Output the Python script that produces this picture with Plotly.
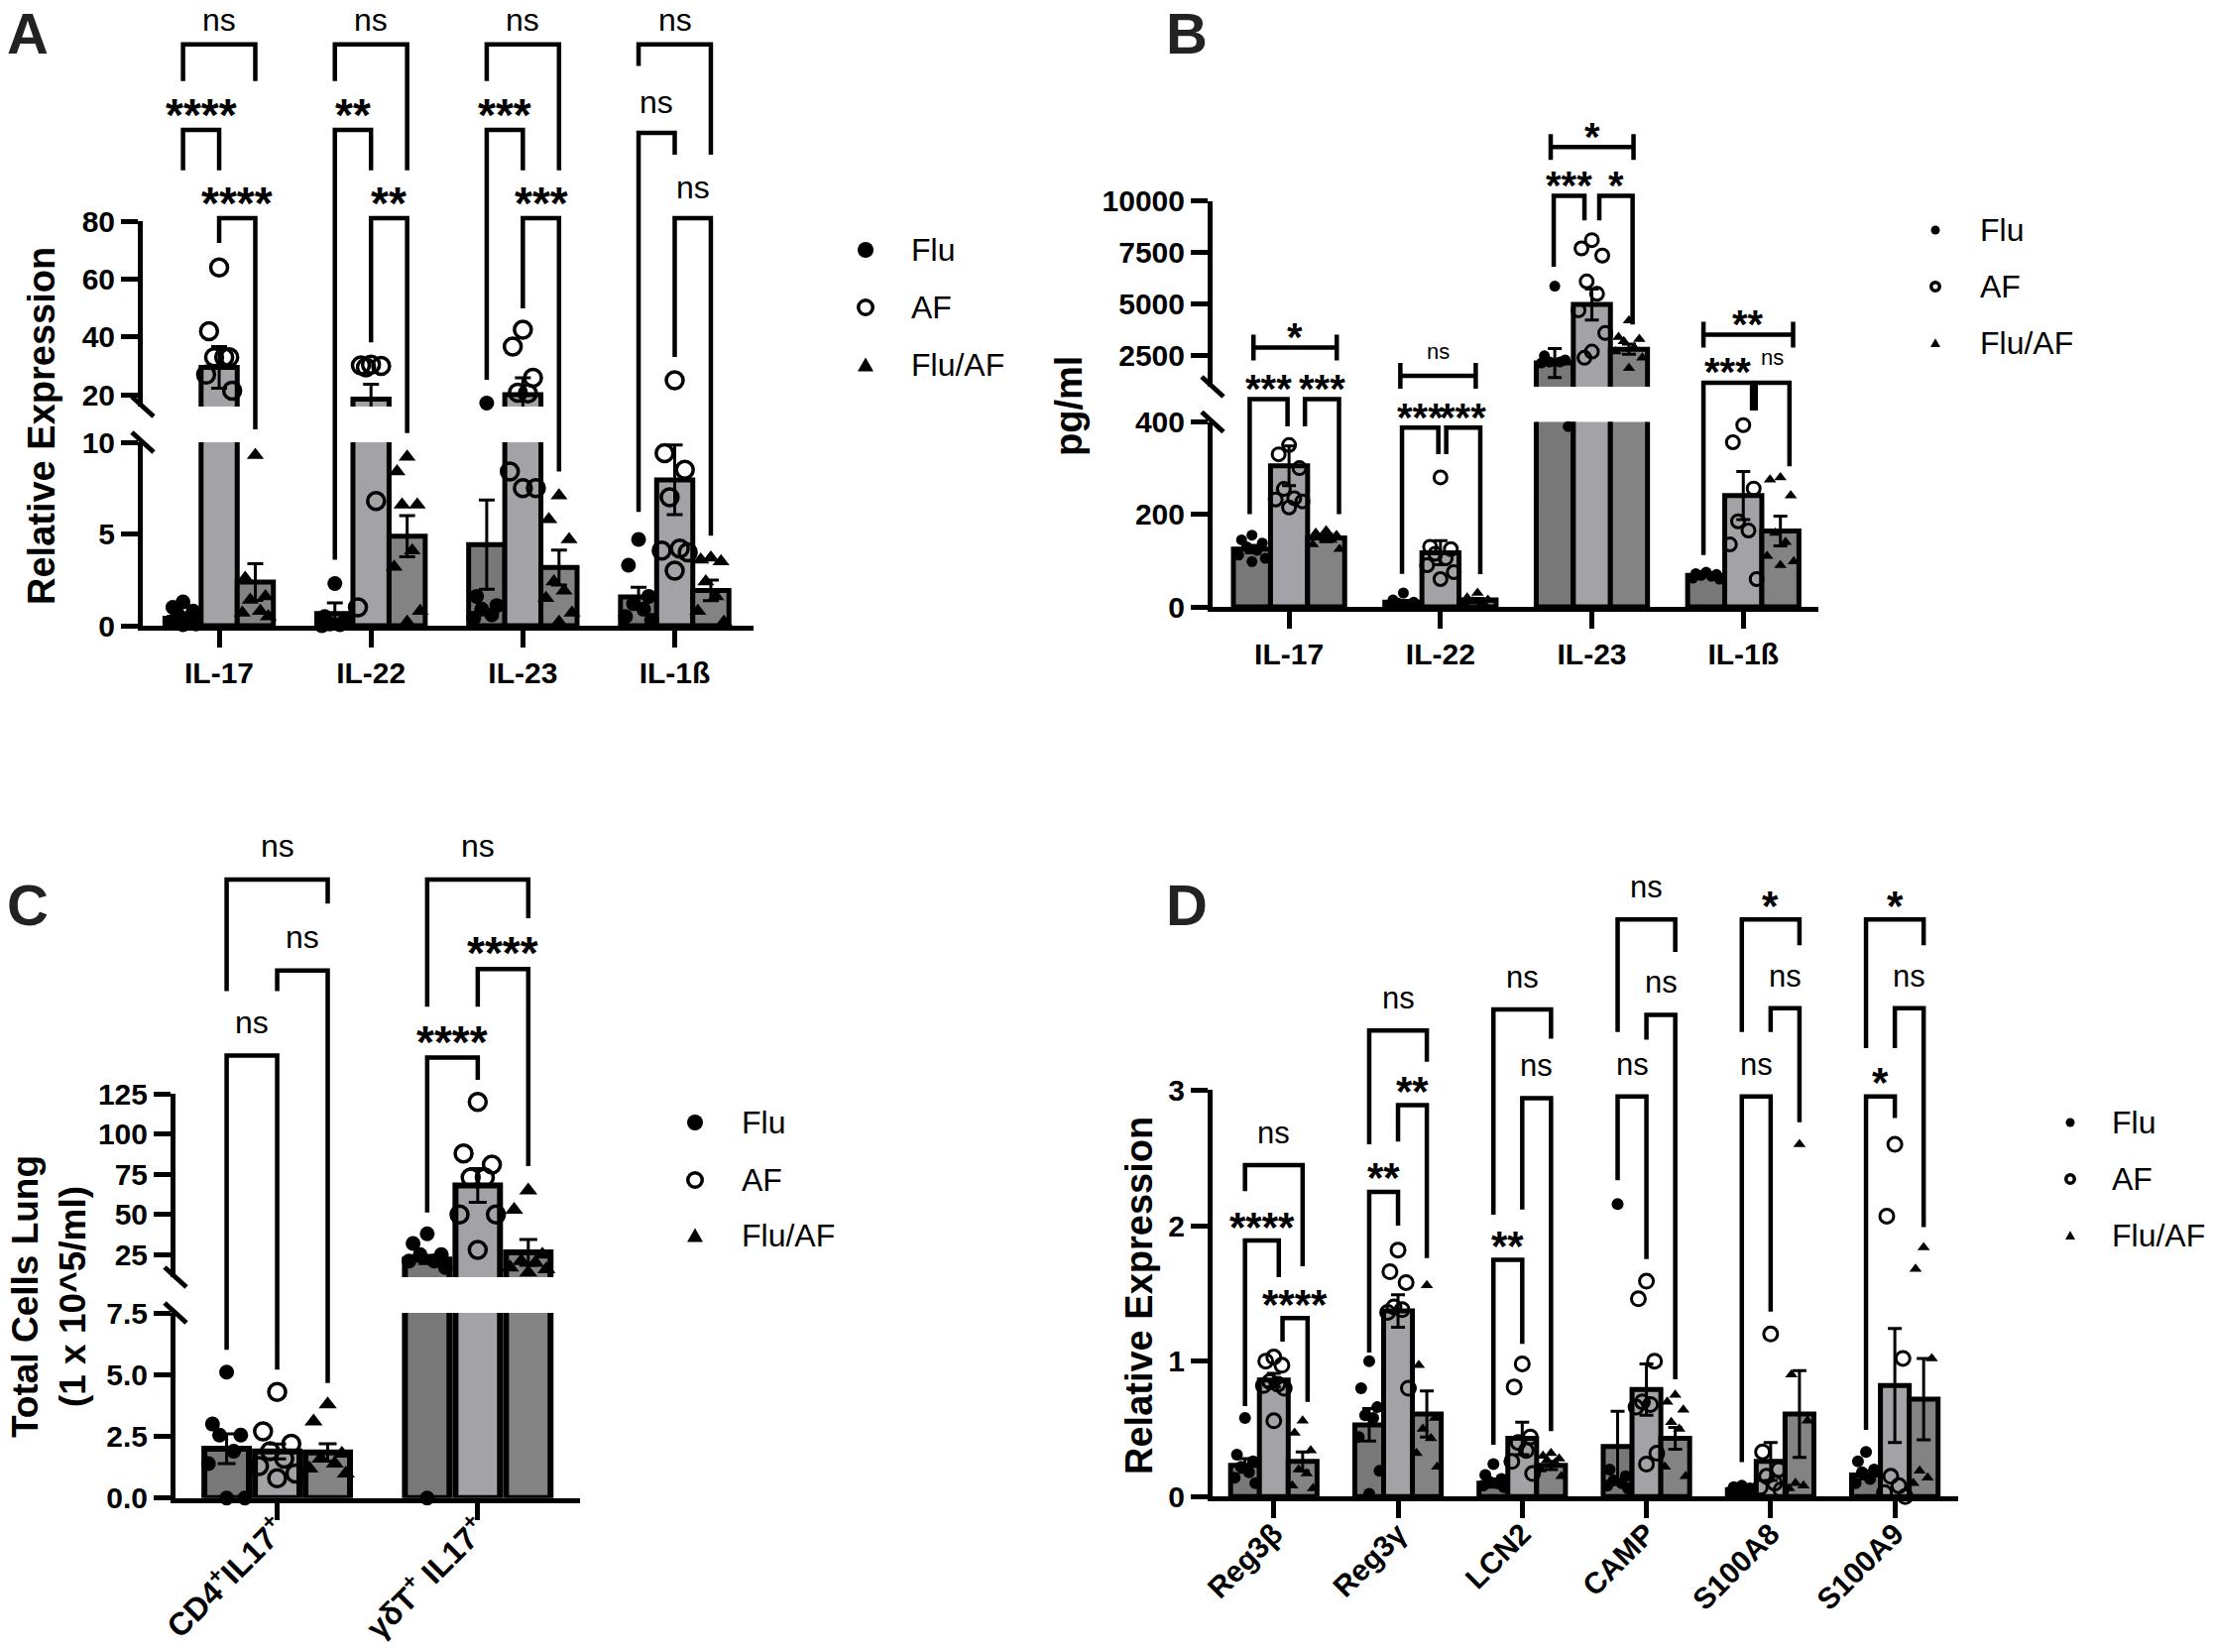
import plotly.graph_objects as go

W, H = 2232, 1666
FONT = "Liberation Sans"

GROUPS = ["Flu", "AF", "Flu/AF"]
BAR_COLORS = ["#787878", "#a3a2a7", "#838383"]
SYMBOLS = ["circle", "circle-open", "triangle-up"]

# ---------------- Panel A : relative expression (broken axis) ----------------
A_categories = ["IL-17", "IL-22", "IL-23", "IL-1ß"]
A_flu_mean = [0.40, 0.66, 4.42, 1.57]
A_flu_sem = [0.15, 0.58, 2.43, 0.53]
A_af_mean = [29.5, 18.6, 20.1, 7.95]
A_af_sem = [7.2, 5.1, 5.8, 1.9]
A_fluaf_mean = [2.38, 4.88, 3.17, 1.92]
A_fluaf_sem = [1.0, 1.12, 0.95, 0.56]
A_flu_points = [[1.3, 1.0, 0.8, 0.6, 0.4, 0.2, 0.1, 0.05],
                [2.3, 0.5, 0.3, 0.1, 0.05, 0.0],
                [17.2, 1.6, 1.1, 0.9, 0.6, 0.4],
                [4.7, 3.3, 1.6, 1.2, 0.9, 0.5, 0.3]]
A_af_points = [[64, 42, 33, 33, 33, 27, 21.5],
               [30.5, 30.2, 30, 29.5, 6.8, 1.0],
               [42.5, 36.7, 25.9, 20.8, 20.5, 8.4, 7.5, 7.5],
               [25.1, 9.4, 8.5, 7.0, 4.2, 4.1, 4.0, 3.0]]
A_fluaf_points = [[9.3, 2.6, 1.6, 1.4, 0.8, 0.7, 0.5],
                  [9.2, 8.4, 6.6, 6.6, 4.1, 3.2, 0.8, 0.2],
                  [7.1, 5.8, 4.7, 2.4, 1.9, 1.5, 0.7, 0.2],
                  [3.7, 3.6, 3.5, 2.4, 1.6, 0.8, 0.2]]
# (category, left group, right group, bracket level, left leg end, right leg end, label, (dx left, dx right))
A_brackets = [(0, 0, 2, 141.0, 128.3, 128.3, "ns", (0, 0)),
              (0, 0, 1, 111.5, 97.5, 97.5, "****", (0, 0)),
              (0, 1, 2, 81.0, 72.5, 10.7, "****", (0, 0)),
              (1, 0, 2, 141.0, 128.3, 97.5, "ns", (0, 0)),
              (1, 0, 1, 111.5, 3.6, 97.5, "**", (0, 0)),
              (1, 1, 2, 81.0, 38.2, 10.5, "**", (0, 0)),
              (2, 0, 2, 141.0, 128.3, 97.5, "ns", (0, 0)),
              (2, 0, 1, 111.5, 25.2, 97.5, "***", (0, 0)),
              (2, 1, 2, 81.0, 49.9, 8.4, "***", (0, 0)),
              (3, 0, 2, 141.0, 133.6, 102.9, "ns", (0, 0)),
              (3, 0, 1, 110.5, 6.2, 102.9, "ns", (0, 0)),
              (3, 1, 2, 81.0, 33.1, 4.9, "ns", (0, 0))]

# ---------------- Panel B : pg/ml (broken axis) ----------------
B_categories = ["IL-17", "IL-22", "IL-23", "IL-1ß"]
B_flu_mean = [125, 10, 2150, 68]
B_flu_sem = [8, 4, 700, 3]
B_af_mean = [305, 117, 4984, 241]
B_af_sem = [43, 26, 750, 52]
B_fluaf_mean = [149, 15, 2817, 164]
B_fluaf_sem = [8, 3, 250, 32]
B_flu_points = [[155, 145, 138, 130, 122, 112, 105, 98],
                [30, 15, 10, 8, 5, 3],
                [5870, 2500, 2300, 2200, 2200, 2150, 390],
                [75, 72, 70, 68, 66, 62, 60]]
B_af_points = [[350, 330, 300, 255, 235, 232, 228, 215],
               [280, 130, 125, 115, 105, 90, 75, 60],
               [8100, 7700, 7350, 6100, 5500, 4700, 3600, 2700, 2400],
               [393, 356, 256, 185, 165, 135, 60]]
B_fluaf_points = [[165, 160, 155, 150, 145, 135, 125],
                  [30, 20, 15, 12, 10, 8],
                  [4200, 3400, 3300, 3200, 2900, 2700, 2400, 1900],
                  [280, 275, 241, 160, 140, 110, 98, 90]]
# leg ends None -> horizontal bar with end caps
B_brackets = [(0, 0, 2, 2902, None, None, "*", (0.01, 0.07)),
              (0, 0, 1, 449.5, 200.5, 390.3, "***", (-0.015, -0.01)),
              (0, 1, 2, 449.5, 390.3, 200.5, "***", (0.105, 0.085)),
              (1, 0, 2, 1528, None, None, "ns", (-0.02, -0.012)),
              (1, 0, 1, 387.6, 71.4, 330.3, "***", (-0.009, -0.014)),
              (1, 1, 2, 387.6, 330.3, 71.0, "***", (0.038, 0.018)),
              (2, 0, 2, 12614, None, None, "*", (-0.027, 0.03)),
              (2, 0, 1, 10246, 6815, 9060, "***", (-0.007, -0.049)),
              (2, 1, 2, 10246, 9060, 4011, "*", (0.049, 0.024)),
              (3, 0, 2, 3517, None, None, "**", (-0.018, 0.084)),
              (3, 0, 1, 1197, 112, 424.7, "***", (-0.018, 0.058)),
              (3, 1, 2, 1197, 424.7, 304, "ns", (0.082, 0.06))]

# ---------------- Panel C : total cells (broken axis) ----------------
C_categories = ["CD4<sup>+</sup>IL17<sup>+</sup>", "γδT<sup>+</sup> IL17<sup>+</sup>"]
C_flu_mean = [2.0, 22.0]
C_flu_sem = [0.6, 2.5]
C_af_mean = [1.89, 68.0]
C_af_sem = [0.3, 10.5]
C_fluaf_mean = [1.85, 26.4]
C_fluaf_sem = [0.35, 8.0]
C_flu_points = [[5.1, 3.0, 2.55, 2.55, 1.9, 1.4, 0.0, 0.0],
                [38, 32, 25, 25, 21, 21, 17, 0.0]]
C_af_points = [[4.3, 2.7, 2.2, 1.9, 1.6, 1.3, 1.0, 0.8],
               [120, 88, 81, 73, 73, 50, 50, 28]]
C_fluaf_points = [[3.8, 3.1, 1.8, 1.6, 1.4, 1.2, 1.0],
                  [65, 53, 25, 21, 20, 17, 16, 14]]
C_brackets = [(0, 0, 2, 258.3, 188.9, 243.4, "ns", (0, 0)),
              (0, 1, 2, 201.8, 188.9, 4.66, "ns", (0, 0)),
              (0, 0, 1, 148.9, 6.0, 5.2, "ns", (0, 0)),
              (1, 0, 2, 258.3, 179.2, 234.3, "ns", (0, 0)),
              (1, 1, 2, 202.7, 179.2, 80.1, "****", (0, 0)),
              (1, 0, 1, 147.6, 51.2, 133.8, "****", (0, 0))]

# ---------------- Panel D : relative expression ----------------
D_categories = ["Reg3β", "Reg3γ", "LCN2", "CAMP", "S100A8", "S100A9"]
D_flu_mean = [0.23, 0.53, 0.10, 0.37, 0.05, 0.16]
D_flu_sem = [0.05, 0.12, 0.03, 0.26, 0.01, 0.03]
D_af_mean = [0.86, 1.37, 0.43, 0.79, 0.26, 0.82]
D_af_sem = [0.05, 0.12, 0.12, 0.19, 0.14, 0.42]
D_fluaf_mean = [0.26, 0.61, 0.23, 0.43, 0.61, 0.72]
D_fluaf_sem = [0.07, 0.17, 0.03, 0.08, 0.32, 0.30]
D_flu_points = [[0.58, 0.31, 0.26, 0.22, 0.18, 0.14, 0.10],
                [1.0, 0.8, 0.66, 0.6, 0.58, 0.44, 0.19, 0.02],
                [0.24, 0.16, 0.13, 0.11, 0.10, 0.08, 0.07],
                [2.16, 0.2, 0.15, 0.12, 0.10, 0.08, 0.06],
                [0.08, 0.07, 0.06, 0.05, 0.04, 0.04, 0.03],
                [0.33, 0.26, 0.2, 0.18, 0.13, 0.10]]
D_af_points = [[1.03, 1.0, 0.97, 0.85, 0.83, 0.82, 0.80, 0.56],
               [1.82, 1.66, 1.58, 1.4, 1.38, 1.36, 0.8],
               [0.98, 0.81, 0.44, 0.4, 0.34, 0.26, 0.17],
               [1.59, 1.46, 1.0, 0.7, 0.68, 0.66, 0.32, 0.24],
               [1.2, 0.33, 0.2, 0.15, 0.10, 0.07, 0.05],
               [2.6, 2.07, 1.02, 0.15, 0.08, 0.03, 0.0]]
D_fluaf_points = [[0.56, 0.47, 0.34, 0.2, 0.17, 0.08, 0.06],
                  [1.56, 0.97, 0.58, 0.5, 0.43, 0.32, 0.22],
                  [0.32, 0.3, 0.28, 0.27, 0.25, 0.2, 0.15],
                  [0.75, 0.7, 0.64, 0.55, 0.5, 0.22, 0.15],
                  [2.6, 0.9, 0.56, 0.1, 0.08, 0.06],
                  [1.84, 1.68, 1.02, 0.19, 0.14, 0.10]]
D_brackets = [(0, 0, 2, 2.446, 2.255, 1.70, "ns", (0, 0)),
              (0, 0, 1, 1.89, 0.668, 1.62, "****", (0, 0.04)),
              (0, 1, 2, 1.318, 1.144, 0.70, "****", (0.07, 0.04)),
              (1, 0, 2, 3.44, 2.60, 3.21, "ns", (0, 0)),
              (1, 1, 2, 2.89, 2.62, 1.76, "**", (0, 0)),
              (1, 0, 1, 2.25, 1.064, 2.0, "**", (0, 0)),
              (2, 0, 2, 3.595, 2.08, 3.38, "ns", (0, 0)),
              (2, 1, 2, 2.94, 2.12, 0.484, "ns", (0, 0)),
              (2, 0, 1, 1.747, 0.383, 1.128, "**", (0, 0)),
              (3, 0, 2, 4.26, 3.43, 4.02, "ns", (0, 0)),
              (3, 1, 2, 3.556, 3.373, 0.865, "ns", (0, 0)),
              (3, 0, 1, 2.953, 2.335, 1.753, "ns", (0, 0)),
              (4, 0, 2, 4.26, 3.43, 4.07, "*", (0, 0)),
              (4, 1, 2, 3.605, 3.43, 2.763, "ns", (0, 0)),
              (4, 0, 1, 2.953, 0.255, 1.366, "ns", (0, 0)),
              (5, 0, 2, 4.26, 3.31, 4.07, "*", (0, 0)),
              (5, 1, 2, 3.605, 3.31, 1.99, "ns", (0, 0)),
              (5, 0, 1, 2.953, 0.493, 2.795, "*", (0, 0))]

# jitter pattern (fraction of bar pitch) used to spread the dots inside a bar
JITTER = [0.0, -0.28, 0.28, -0.14, 0.14, -0.36, 0.36, 0.0, -0.2]

panels = [
    dict(letter="A", letter_px=(28, 33), cats=A_categories,
         means=[A_flu_mean, A_af_mean, A_fluaf_mean], sems=[A_flu_sem, A_af_sem, A_fluaf_sem],
         points=[A_flu_points, A_af_points, A_fluaf_points], brackets=A_brackets,
         xpx=(144, 760), xrange=(-0.503, 3.519), tickangle=0, xfont=30, xstand=0,
         segs=[dict(rng=(0, 10), px=(631, 446), tv=[0, 5, 10], tt=["0", "5", "10"]),
               dict(rng=(16, 80), px=(410, 223), tv=[20, 40, 60, 80], tt=["20", "40", "60", "80"])],
         pitch=0.238, barw=0.238, blw=5, ms=[15, 17, 15], oline=3.5, ecap=8,
         ns_size=32, st_size=46, ns_gap=28, st_gap=26.5, brw=4.5,
         title="Relative Expression", title_px=(42, 430), title_size=38,
         legend=dict(mx=873, tx=917, ys=[252, 310, 368], ms=[16, 18, 16])),
    dict(letter="B", letter_px=(1197, 33), cats=B_categories,
         means=[B_flu_mean, B_af_mean, B_fluaf_mean], sems=[B_flu_sem, B_af_sem, B_fluaf_sem],
         points=[B_flu_points, B_af_points, B_fluaf_points], brackets=B_brackets,
         xpx=(1223, 1834), xrange=(-0.505, 3.496), tickangle=0, xfont=30, xstand=0,
         segs=[dict(rng=(0, 400), px=(612, 425.5), tv=[0, 200, 400], tt=["0", "200", "400"]),
               dict(rng=(1000, 10000), px=(390, 202.6), tv=[2500, 5000, 7500, 10000],
                    tt=["2500", "5000", "7500", "10000"])],
         pitch=0.245, barw=0.245, blw=5, ms=[11, 13, 11], oline=3, ecap=7,
         ns_size=22, st_size=40, ns_gap=23, st_gap=20, brw=4.5,
         title="pg/ml", title_px=(1078, 410), title_size=38,
         legend=dict(mx=1952, tx=1995, ys=[232, 289, 346], ms=[9, 12, 10])),
    dict(letter="C", letter_px=(28, 912), cats=C_categories,
         means=[C_flu_mean, C_af_mean, C_fluaf_mean], sems=[C_flu_sem, C_af_sem, C_fluaf_sem],
         points=[C_flu_points, C_af_points, C_fluaf_points], brackets=C_brackets,
         xpx=(177, 585), xrange=(-0.507, 1.51), tickangle=-45, xfont=32, xstand=-22,
         segs=[dict(rng=(0, 7.5), px=(1510.8, 1324), tv=[0, 2.5, 5, 7.5], tt=["0.0", "2.5", "5.0", "7.5"]),
               dict(rng=(11, 125), px=(1288, 1103.2), tv=[25, 50, 75, 100, 125],
                    tt=["25", "50", "75", "100", "125"])],
         pitch=0.252, barw=0.222, blw=6, ms=[15, 17, 16], oline=3.5, ecap=9,
         ns_size=32, st_size=46, ns_gap=31, st_gap=27, brw=4.5,
         title="Total Cells Lung<br>(1 x 10^5/ml)", title_px=(49, 1308), title_size=37,
         legend=dict(mx=701, tx=746, ys=[1132, 1190, 1246], ms=[16, 18, 16])),
    dict(letter="D", letter_px=(1197, 912), cats=D_categories,
         means=[D_flu_mean, D_af_mean, D_fluaf_mean], sems=[D_flu_sem, D_af_sem, D_fluaf_sem],
         points=[D_flu_points, D_af_points, D_fluaf_points], brackets=D_brackets,
         xpx=(1223, 1975), xrange=(-0.493, 5.51), tickangle=-45, xfont=30, xstand=-14,
         segs=[dict(rng=(0, 3), px=(1509.3, 1099.4), tv=[0, 1, 2, 3], tt=["0", "1", "2", "3"])],
         pitch=0.232, barw=0.232, blw=5, ms=[12, 14, 11], oline=3, ecap=7,
         ns_size=31, st_size=42, ns_gap=30, st_gap=24, brw=4.5,
         title="Relative Expression", title_px=(1149, 1307), title_size=38,
         legend=dict(mx=2088, tx=2128, ys=[1132, 1189, 1246], ms=[9, 12, 10])),
]

fig = go.Figure()
layout = {}
shapes = []
annotations = []


def axis_names(kind, i):
    return (kind + ("" if i == 1 else str(i)), ("x" if kind == "xaxis" else "y") + ("" if i == 1 else str(i)))


def v2paper(p, v):
    segs = p["segs"]
    s = segs[-1] if (len(segs) == 1 or v >= segs[1]["rng"][0]) else segs[0]
    (r0, r1), (b, t) = s["rng"], s["px"]
    px = b + (v - r0) * (t - b) / (r1 - r0)
    return 1 - px / H


def in_seg(p, k, v):
    segs = p["segs"]
    if len(segs) == 1:
        return True
    return v <= segs[0]["rng"][1] if k == 0 else v >= segs[1]["rng"][0]


tickfont = dict(family=FONT, size=30, color="black", weight="bold")
yid = 0
for pi, p in enumerate(panels):
    xkey, xref = axis_names("xaxis", pi + 1)
    n = len(p["cats"])
    seg_refs = []
    for k, s in enumerate(p["segs"]):
        yid += 1
        ykey, yref = axis_names("yaxis", yid)
        seg_refs.append(yref)
        layout[ykey] = dict(domain=[1 - s["px"][0] / H, 1 - s["px"][1] / H], range=list(s["rng"]),
                            anchor=xref, tickvals=s["tv"], ticktext=s["tt"], showline=True,
                            linecolor="black", linewidth=5, ticks="outside", ticklen=17, tickwidth=5,
                            tickcolor="black", showgrid=False, zeroline=False, tickfont=tickfont,
                            fixedrange=True, automargin=False)
        # bars with SEM
        for g in range(3):
            xs = [c + (g - 1) * p["pitch"] for c in range(n)]
            fig.add_trace(go.Bar(x=xs, y=p["means"][g], width=p["barw"], xaxis=xref, yaxis=yref,
                                 marker=dict(color=BAR_COLORS[g], line=dict(color="black", width=p["blw"])),
                                 error_y=dict(type="data", array=p["sems"][g], color="black",
                                              thickness=3, width=p["ecap"]),
                                 name=GROUPS[g], showlegend=False, hoverinfo="skip"))
        # individual points
        for g in range(3):
            xs, ys = [], []
            for c in range(n):
                for i, v in enumerate(p["points"][g][c]):
                    if in_seg(p, k, v):
                        xs.append(c + (g - 1) * p["pitch"] + JITTER[i % len(JITTER)] * p["pitch"])
                        ys.append(v)
            if g == 1:
                mk = dict(symbol=SYMBOLS[g], size=p["ms"][g], color="black",
                          line=dict(color="black", width=p["oline"]))
            else:
                mk = dict(symbol=SYMBOLS[g], size=p["ms"][g], color="black", line=dict(width=0))
            fig.add_trace(go.Scatter(x=xs, y=ys, mode="markers", marker=mk, xaxis=xref, yaxis=yref,
                                     cliponaxis=False, showlegend=False, hoverinfo="skip"))
    layout[xkey] = dict(domain=[p["xpx"][0] / W, p["xpx"][1] / W], range=list(p["xrange"]),
                        anchor=seg_refs[0], tickvals=list(range(n)), ticktext=p["cats"],
                        tickangle=p["tickangle"], showline=True, linecolor="black", linewidth=5,
                        ticks="outside", ticklen=17, tickwidth=5, tickcolor="black", showgrid=False,
                        zeroline=False, tickfont=dict(tickfont, size=p["xfont"]),
                        ticklabelstandoff=p["xstand"], fixedrange=True, automargin=False)

    # axis break marks
    if len(p["segs"]) == 2:
        ax_x = p["xpx"][0]
        for ypx in (p["segs"][0]["px"][1], p["segs"][1]["px"][0]):
            shapes.append(dict(type="line", xref="paper", yref="paper",
                               x0=(ax_x - 11) / W, y0=1 - (ypx - 10) / H,
                               x1=(ax_x + 11) / W, y1=1 - (ypx + 10) / H,
                               line=dict(color="black", width=5)))

    # significance brackets
    for (c, g1, g2, lvl, e1, e2, lab, (dx1, dx2)) in p["brackets"]:
        x1 = c + (g1 - 1) * p["pitch"] + dx1
        x2 = c + (g2 - 1) * p["pitch"] + dx2
        yl = v2paper(p, lvl)
        if e1 is None:
            cap = 13 / H
            path = (f"M{x1},{yl - cap} L{x1},{yl + cap} M{x1},{yl} L{x2},{yl} "
                    f"M{x2},{yl - cap} L{x2},{yl + cap}")
        else:
            path = f"M{x1},{v2paper(p, e1)} L{x1},{yl} L{x2},{yl} L{x2},{v2paper(p, e2)}"
        shapes.append(dict(type="path", path=path, xref=xref, yref="paper",
                           line=dict(color="black", width=p["brw"])))
        if lab == "ns":
            size, shift, weight = p["ns_size"], p["ns_gap"] + 0.087 * p["ns_size"], "normal"
        else:
            size, shift, weight = p["st_size"], p["st_gap"] - 0.24 * p["st_size"], "bold"
        # keep the label box inside the figure at the top edge
        level_px = (1 - yl) * H
        half_box = 0.58 * size + 1
        shift = min(shift, level_px - half_box)
        annotations.append(dict(x=(x1 + x2) / 2, y=yl, xref=xref, yref="paper", text=lab,
                                showarrow=False, xanchor="center", yanchor="middle", yshift=shift,
                                font=dict(family=FONT, size=size, color="black", weight=weight)))

    # panel letter
    annotations.append(dict(x=p["letter_px"][0] / W, y=1 - p["letter_px"][1] / H, xref="paper",
                            yref="paper", text=p["letter"], showarrow=False, xanchor="center",
                            yanchor="middle",
                            font=dict(family=FONT, size=58, color="#222222", weight="bold")))
    # y-axis title
    annotations.append(dict(x=p["title_px"][0] / W, y=1 - p["title_px"][1] / H, xref="paper",
                            yref="paper", text=p["title"], showarrow=False, textangle=-90,
                            xanchor="center", yanchor="middle",
                            font=dict(family=FONT, size=p["title_size"], color="black", weight="bold")))
    # legend
    lg = p["legend"]
    for g in range(3):
        cx, cy = lg["mx"] / W, 1 - lg["ys"][g] / H
        r = lg["ms"][g] / 2
        if g == 0:
            shapes.append(dict(type="circle", xref="paper", yref="paper", xsizemode="pixel",
                               ysizemode="pixel", xanchor=cx, yanchor=cy, x0=-r, x1=r, y0=-r, y1=r,
                               fillcolor="black", line=dict(width=0)))
        elif g == 1:
            rr = r - 1.75
            shapes.append(dict(type="circle", xref="paper", yref="paper", xsizemode="pixel",
                               ysizemode="pixel", xanchor=cx, yanchor=cy, x0=-rr, x1=rr, y0=-rr, y1=rr,
                               fillcolor="white", line=dict(color="black", width=3.5)))
        else:
            shapes.append(dict(type="path", xref="paper", yref="paper", xsizemode="pixel",
                               ysizemode="pixel", xanchor=cx, yanchor=cy,
                               path=f"M{-r},{-0.8 * r} L{r},{-0.8 * r} L0,{0.95 * r} Z",
                               fillcolor="black", line=dict(width=0)))
        annotations.append(dict(x=lg["tx"] / W, y=cy, xref="paper", yref="paper", text=GROUPS[g],
                                showarrow=False, xanchor="left", yanchor="middle",
                                font=dict(family=FONT, size=32, color="black")))

fig.update_layout(**layout)
fig.update_layout(width=W, height=H, margin=dict(l=0, r=0, t=0, b=0, pad=0, autoexpand=False),
                  barmode="overlay", plot_bgcolor="white", paper_bgcolor="white", showlegend=False,
                  shapes=shapes, annotations=annotations, font=dict(family=FONT, color="black"))
fig.write_html("out.html", config={"displayModeBar": False},
               post_script="document.body.style.margin='0px';document.body.style.overflow='hidden';")
